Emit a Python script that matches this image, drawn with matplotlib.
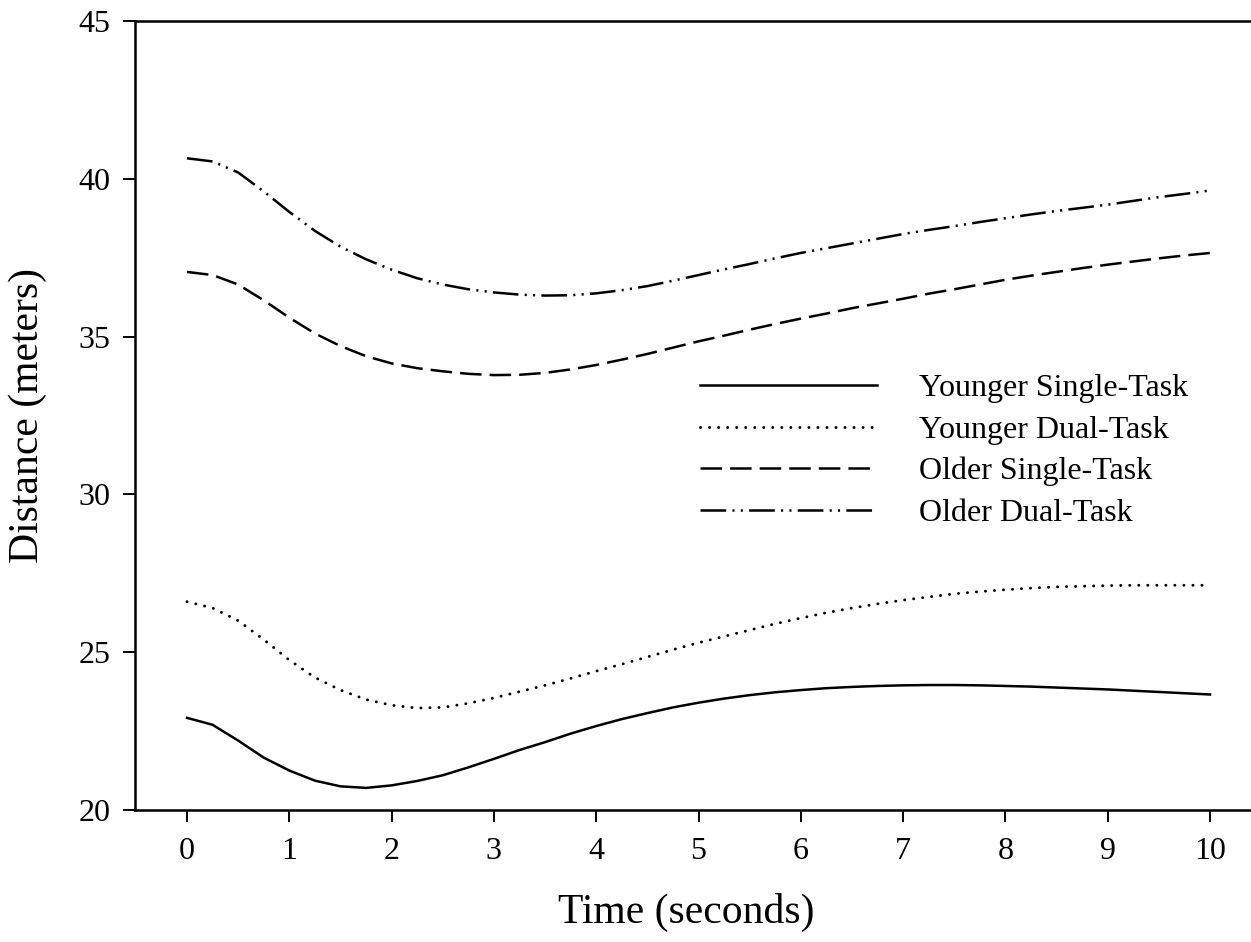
import matplotlib
matplotlib.use("Agg")
import matplotlib.pyplot as plt

plt.rcParams['font.family'] = ['Liberation Serif', 'DejaVu Serif']
plt.rcParams['lines.scale_dashes'] = False

time_s = [0, 0.25, 0.5, 0.75, 1, 1.25, 1.5, 1.75, 2, 2.25, 2.5, 2.75, 3, 3.25, 3.5, 3.75, 4,
          4.25, 4.5, 4.75, 5, 5.25, 5.5, 5.75, 6, 6.25, 6.5, 6.75, 7, 7.25, 7.5, 7.75, 8,
          8.25, 8.5, 8.75, 9, 9.25, 9.5, 9.75, 10]
younger_single = [22.92, 22.7, 22.2, 21.66, 21.25, 20.93, 20.75, 20.7, 20.78, 20.92, 21.1,
                  21.35, 21.62, 21.9, 22.15, 22.42, 22.66, 22.88, 23.07, 23.25, 23.4, 23.53,
                  23.64, 23.73, 23.8, 23.86, 23.9, 23.93, 23.95, 23.96, 23.96, 23.95, 23.93,
                  23.91, 23.88, 23.85, 23.82, 23.78, 23.74, 23.7, 23.66]
younger_dual = [26.6, 26.4, 26.0, 25.4, 24.75, 24.2, 23.8, 23.5, 23.32, 23.23, 23.25, 23.38,
                23.55, 23.75, 23.95, 24.17, 24.4, 24.62, 24.85, 25.08, 25.3, 25.5, 25.7, 25.9,
                26.08, 26.25, 26.4, 26.53, 26.65, 26.75, 26.85, 26.92, 26.98, 27.03, 27.07,
                27.09, 27.11, 27.12, 27.12, 27.12, 27.12]
older_single = [37.05, 36.95, 36.65, 36.15, 35.6, 35.1, 34.7, 34.38, 34.15, 34.0, 33.9, 33.82,
                33.78, 33.79, 33.85, 33.96, 34.1, 34.27, 34.45, 34.65, 34.85, 35.03, 35.22,
                35.4, 35.57, 35.73, 35.9, 36.05, 36.2, 36.36, 36.5, 36.65, 36.8, 36.93, 37.05,
                37.17, 37.28, 37.38, 37.48, 37.57, 37.65]
older_dual = [40.65, 40.55, 40.2, 39.6, 38.95, 38.35, 37.85, 37.45, 37.12, 36.85, 36.65, 36.5,
              36.4, 36.33, 36.3, 36.31, 36.37, 36.47, 36.6, 36.77, 36.95, 37.13, 37.3, 37.48,
              37.65, 37.8, 37.95, 38.1, 38.25, 38.38, 38.5, 38.63, 38.75, 38.87, 38.98, 39.08,
              39.18, 39.3, 39.42, 39.52, 39.63]

labels = ['Younger Single-Task', 'Younger Dual-Task', 'Older Single-Task', 'Older Dual-Task']
x_ticks = list(range(0, 11))
y_ticks = [20, 25, 30, 35, 40, 45]

W, H = 1251, 942
fig = plt.figure(figsize=(W / 100, H / 100), dpi=100)
left, right, top, bottom = 135, 1265, 21, 810
ax = fig.add_axes([left / W, 1 - bottom / H, (right - left) / W, (bottom - top) / H])

lw = 1.8
ax.plot(time_s, younger_single, color='black', lw=lw, linestyle='-', label=labels[0])
ax.plot(time_s, younger_dual, color='black', lw=2.1, linestyle=(0, (0.1, 6.4)),
        dash_capstyle='round', label=labels[1])
ax.plot(time_s, older_single, color='black', lw=lw, linestyle=(0, (15.5, 5.8)), label=labels[2])
ax.plot(time_s, older_dual, color='black', lw=lw,
        linestyle=(0, (18.5, 4.5, 1.5, 4.5, 1.5, 4.5)), label=labels[3])

px_per_unit = (1210 - 187) / 10
ax.set_xlim((left - 187) / px_per_unit, (right - 187) / px_per_unit)
ax.set_ylim(20, 45)
ax.set_xticks(x_ticks)
ax.set_yticks(y_ticks)

for s in ['left', 'top', 'bottom', 'right']:
    ax.spines[s].set_linewidth(1.8)
ax.tick_params(direction='out', length=8.5, width=1.4, labelsize=23, colors='black')
ax.tick_params(axis='y', pad=9)
ax.tick_params(axis='x', pad=11)

ax.set_xlabel('Time (seconds)', fontsize=30)
ax.set_ylabel('Distance (meters)', fontsize=30)
ax.xaxis.set_label_coords((686 - left) / (right - left), -(893 - bottom) / (bottom - top), transform=ax.transAxes)
ax.yaxis.set_label_coords(-(135 - 47) / (right - left), 0.5)

ax.legend(loc='upper left', bbox_to_anchor=(700 / W, 1 - 374 / H), bbox_transform=fig.transFigure,
          frameon=False, fontsize=23, handlelength=5.55, handletextpad=1.3,
          labelspacing=0.38, borderpad=0, borderaxespad=0)

fig.savefig('out.png', dpi=100)
